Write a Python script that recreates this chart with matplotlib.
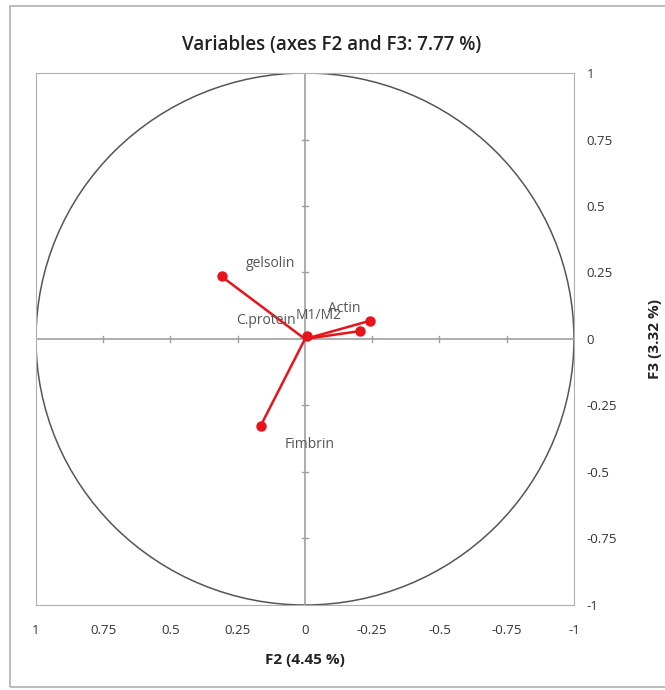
import matplotlib.pyplot as plt
import numpy as np
from matplotlib.patches import Circle, Rectangle

plt.rcParams['font.family'] = ['Open Sans', 'DejaVu Sans']

# variable coordinates on F2 / F3
names = ['gelsolin', 'Actin', 'M1/M2', 'C.protein', 'Fimbrin']
f2 = [0.31, -0.24, -0.205, -0.008, 0.165]
f3 = [0.235, 0.068, 0.03, 0.012, -0.327]
# label offsets (points)
lab_dx = [35, -18, -30, -30, 35]
lab_dy = [9, 9, 11, 11, -13]

ticks = [1, 0.75, 0.5, 0.25, 0, -0.25, -0.5, -0.75, -1]

fig = plt.figure(figsize=(6.65, 6.9), dpi=100)
fig.patches.append(Rectangle((0.015, 0.004), 0.99, 0.988, transform=fig.transFigure,
                             fill=False, edgecolor='#b0b0b0', lw=1.2))
ax = fig.add_axes([0.0541, 0.1232, 0.809, 0.771])
ax.set_xlim(1, -1)
ax.set_ylim(-1, 1)

ax.add_patch(Circle((0, 0), 1, fill=False, edgecolor='#555555', lw=1.1))
ax.axhline(0, color='#a0a0a0', lw=1.2)
ax.axvline(0, color='#a0a0a0', lw=1.2)
for t in ticks:
    if t in (0, 1, -1):
        continue
    ax.plot([t, t], [-0.012, 0.012], color='#a0a0a0', lw=1)
    ax.plot([-0.012, 0.012], [t, t], color='#a0a0a0', lw=1)

for n, x, y, dx, dy in zip(names, f2, f3, lab_dx, lab_dy):
    ax.plot([0, x], [0, y], color='#e8131b', lw=1.8)
    ax.plot(x, y, 'o', color='#e8131b', ms=6.5)
    ax.annotate(n, (x, y), xytext=(dx, dy), textcoords='offset points',
                ha='center', va='center', fontsize=10, color='#555555')

for s in ax.spines.values():
    s.set_color('#b0b0b0')
ax.set_xticks(ticks)
ax.set_xticklabels([f'{t:g}' for t in ticks], fontsize=9.5, color='#333333')
ax.set_yticks(ticks)
ax.set_yticklabels([f'{t:g}' for t in ticks], fontsize=9.5, color='#333333')
ax.yaxis.tick_right()
ax.tick_params(axis='both', length=0)
ax.tick_params(axis='x', pad=14)
ax.tick_params(axis='y', pad=9)

fig.text(0.498, 0.935, 'Variables (axes F2 and F3: 7.77 %)', ha='center', va='center',
         fontsize=13.5, fontweight='semibold', color='#222222')
fig.text(0.459, 0.043, 'F2 (4.45 %)', ha='center', va='center', fontsize=11,
         fontweight='bold', color='#222222')
fig.text(0.985, 0.509, 'F3 (3.32 %)', ha='center', va='center', rotation=90,
         fontsize=11, fontweight='bold', color='#222222')

fig.savefig('out.png', dpi=100)
